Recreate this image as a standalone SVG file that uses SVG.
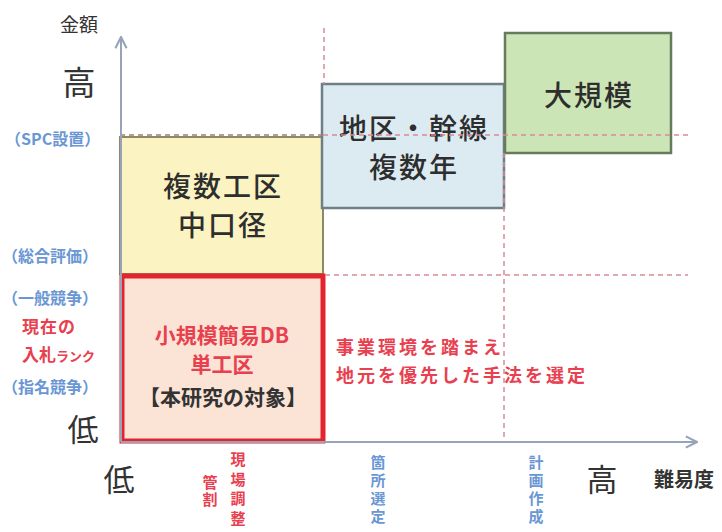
<svg xmlns="http://www.w3.org/2000/svg" width="722" height="532" viewBox="0 0 722 532">
<style>
text{font-family:"Noto Sans CJK JP","Noto Sans",sans-serif;}
.ax{stroke:#97a3b8;stroke-width:2;fill:none;}
.dash{stroke:#d98a96;stroke-width:1.5;stroke-dasharray:5,4;fill:none;}
.dashb{stroke:#a07c6c;stroke-width:1.5;stroke-dasharray:5,4;fill:none;}
.box{font-size:28px;font-weight:500;fill:#2e2e2e;text-anchor:middle;letter-spacing:2px;}
.blu{font-size:16px;fill:#6a97d4;font-weight:bold;}
.red{fill:#e8404f;font-weight:bold;}
.blk{fill:#333;}
.vt{font-size:15px;font-weight:bold;writing-mode:vertical-rl;}
</style>
<defs>
<marker id="arr" viewBox="0 0 10 10" refX="9" refY="5" markerWidth="7" markerHeight="7" orient="auto"><path d="M1,1 L9,5 L1,9" fill="none" stroke="#97a3b8" stroke-width="1.5"/></marker>
</defs>
<g id="nodes">
<g id="yellow"><rect x="120" y="137" width="203" height="137" fill="#fbf4c2" stroke="#8a8a6a" stroke-width="2"/>
<text class="box" x="223" y="197" letter-spacing="3">複数工区</text><text class="box" x="223" y="236" letter-spacing="3">中口径</text></g>
<g id="blue"><rect x="322" y="84" width="182" height="124" fill="#dcebf1" stroke="#6f7f86" stroke-width="2.5"/>
<text class="box" x="414" y="139">地区・幹線</text><text class="box" x="414" y="178">複数年</text></g>
<g id="green"><rect x="505" y="33" width="166" height="120" fill="#cce5b6" stroke="#667a5c" stroke-width="2.5"/>
<text class="box" x="589" y="106" font-size="30" letter-spacing="3">大規模</text></g>
<g id="target"><rect x="122" y="276" width="201" height="165" fill="#fbe4d6" stroke="#e3242f" stroke-width="5"/>
<text class="red" x="222" y="343" font-size="21" text-anchor="middle">小規模簡易DB</text>
<text class="red" x="222" y="372" font-size="21" text-anchor="middle">単工区</text>
<text class="blk" x="223" y="405" font-size="21" font-weight="bold" text-anchor="middle">【本研究の対象】</text></g>
</g>
<g id="connectors">
<line class="dashb" x1="120" y1="135" x2="323" y2="135"/>
<line class="dash" x1="323" y1="135" x2="688" y2="135"/>
<line class="dash" x1="325" y1="275" x2="688" y2="275"/>
<line class="dash" x1="324" y1="28" x2="324" y2="84"/>
<line class="dash" x1="504" y1="153" x2="504" y2="441"/>
<line class="ax" x1="121" y1="442" x2="121" y2="37" marker-end="url(#arr)"/>
<line class="ax" x1="121" y1="442" x2="697" y2="442" marker-end="url(#arr)"/>
</g>
<g id="labels">
<text x="79" y="32" font-size="19" class="blk" text-anchor="middle">金額</text>
<text x="79" y="95" font-size="33" class="blk" text-anchor="middle">高</text>
<text class="blu" x="5" y="145" font-size="17">（SPC設置）</text>
<text class="blu" x="2" y="262">（総合評価）</text>
<text class="blu" x="2" y="304">（一般競争）</text>
<text class="red" x="22" y="333" font-size="17" letter-spacing="1">現在の</text>
<text class="red" x="22" y="361" font-size="17">入札<tspan font-size="13">ランク</tspan></text>
<text class="blu" x="2" y="393">（指名競争）</text>
<text x="83" y="441" font-size="31" class="blk" text-anchor="middle">低</text>
<text x="119" y="491" font-size="31" class="blk" text-anchor="middle">低</text>
<text x="602" y="491" font-size="31" class="blk" text-anchor="middle">高</text>
<text x="684" y="487" font-size="20" font-weight="bold" class="blk" text-anchor="middle">難易度</text>
<text class="red" x="336" y="354" font-size="18" letter-spacing="3">事業環境を踏まえ</text>
<text class="red" x="336" y="382" font-size="18" letter-spacing="3">地元を優先した手法を選定</text>
<text class="vt red" x="238" y="452" letter-spacing="4.5">現場調整</text>
<text class="vt red" x="210" y="475" letter-spacing="2">管割</text>
<text class="vt blu" x="378" y="455" font-size="15" letter-spacing="3">箇所選定</text>
<text class="vt blu" x="536" y="455" font-size="15" letter-spacing="3">計画作成</text>
</g>
</svg>
